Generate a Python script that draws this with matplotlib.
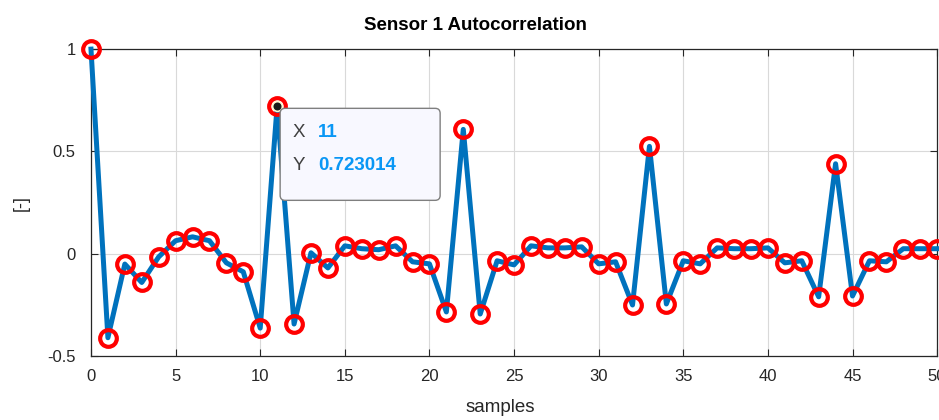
import numpy as np
import matplotlib
matplotlib.use('Agg')
import matplotlib.pyplot as plt
import matplotlib.transforms as mtransforms
from matplotlib.patches import FancyBboxPatch

plt.rcParams['font.family'] = ['Liberation Sans', 'DejaVu Sans']

# 自相关数据
lags = np.arange(0, 51)
acf = [1.0, -0.41, -0.05, -0.14, -0.015, 0.064, 0.083, 0.064, -0.044, -0.088,
       -0.363, 0.723014, -0.343, 0.005, -0.069, 0.039, 0.025, 0.02, 0.039, -0.039,
       -0.049, -0.284, 0.608, -0.294, -0.034, -0.054, 0.039, 0.029, 0.029, 0.034,
       -0.049, -0.039, -0.25, 0.525, -0.245, -0.034, -0.049, 0.029, 0.025, 0.025,
       0.029, -0.044, -0.034, -0.21, 0.44, -0.206, -0.034, -0.039, 0.025, 0.025,
       0.025]
tip_idx = 11

xticks = np.arange(0, 51, 5)
yticks = [-0.5, 0, 0.5, 1]
ytick_labels = ['-0.5', '0', '0.5', '1']

fig = plt.figure(figsize=(9.39, 4.2), dpi=100)
ax = fig.add_axes([0.0969, 0.152, 0.9011, 0.731])

ax.plot(lags, acf, color='#0072BD', linewidth=3.6, marker='o', markersize=12,
        markerfacecolor='none', markeredgecolor='#ff0000', markeredgewidth=3.0,
        clip_on=False, zorder=3)

# 数据提示（以数据点为原点，单位英寸）
tx, ty = lags[tip_idx], acf[tip_idx]
ax.plot(tx, ty, 'o', color='#1a1a1a', markersize=7,
        markeredgecolor='#fff8d0', markeredgewidth=1.2, zorder=5)
tip_trans = fig.dpi_scale_trans + mtransforms.ScaledTranslation(tx, ty, ax.transData)
tip_box = FancyBboxPatch((0.03, -0.945), 1.60, 0.92,
                         boxstyle='round,pad=0,rounding_size=0.05',
                         transform=tip_trans, facecolor='#f8f8ff',
                         edgecolor='#7f7f7f', linewidth=1.0, zorder=6)
ax.add_patch(tip_box)
dark = '#404040'
blue = '#0a97f5'
ax.text(0.15, -0.265, 'X', transform=tip_trans, color=dark, fontsize=13.5,
        va='center', ha='left', zorder=7)
ax.text(0.41, -0.265, str(tx), transform=tip_trans, color=blue, fontsize=13.5,
        fontweight='bold', va='center', ha='left', zorder=7)
ax.text(0.15, -0.595, 'Y', transform=tip_trans, color=dark, fontsize=13.5,
        va='center', ha='left', zorder=7)
ax.text(0.41, -0.595, f'{ty:g}', transform=tip_trans, color=blue, fontsize=13.5,
        fontweight='bold', va='center', ha='left', zorder=7)

ax.set_xlim(0, 50)
ax.set_ylim(-0.5, 1)
ax.set_xticks(xticks)
ax.set_yticks(yticks)
ax.set_yticklabels(ytick_labels)
ax.grid(True, color='#d9d9d9', linewidth=0.8)
ax.set_axisbelow(True)
ax.tick_params(direction='in', top=True, right=True, length=5, width=0.8,
               colors='#262626', labelsize=12)
ax.tick_params(axis='x', pad=9)
ax.tick_params(axis='y', pad=11)
for s in ax.spines.values():
    s.set_color('#262626')
    s.set_linewidth(0.9)

ax.set_title('Sensor 1 Autocorrelation', fontsize=13.5, fontweight='bold',
             x=0.454, pad=14)
ax.set_xlabel('samples', fontsize=13.5, color='#262626')
ax.xaxis.set_label_coords(0.4835, -0.14)
ax.set_ylabel('[-]', fontsize=13, color='#262626')
ax.yaxis.set_label_coords(-0.072, 0.5)

fig.savefig('out.png', dpi=100)
